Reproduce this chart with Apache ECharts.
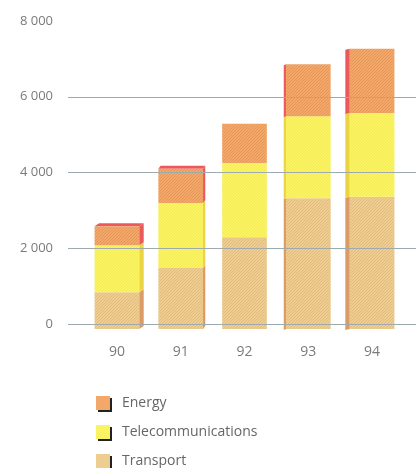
<!DOCTYPE html>
<html>
<head>
<meta charset="utf-8">
<script src="https://cdn.jsdelivr.net/npm/echarts@6/dist/echarts.min.js"></script>
<style>
  html, body { margin: 0; padding: 0; background: #ffffff; }
  #chart { width: 416px; height: 468px; }
</style>
</head>
<body>
<div id="chart"></div>
<script>
// Years on the category axis
const years = ['90', '91', '92', '93', '94'];
// Amounts per sector (stacked from bottom: Transport, Telecommunications, Energy)
const transport = [970, 1610, 2420, 3450, 3490];
const telecom = [1240, 1720, 1960, 2170, 2210];
const energy = [500, 900, 1040, 1370, 1700];
// Value axis ticks and gridlines
const yTicks = [0, 2000, 4000, 6000, 8000];
const gridValues = [0, 2000, 4000, 6000];

const seriesNames = ['Transport', 'Telecommunications', 'Energy'];
const seriesValues = [transport, telecom, energy];

// Face colours for each sector
const palette = {
  Transport: { base: '#eecd90', stripe: '#e3bb7c', side: '#dc9a66' },
  Telecommunications: { base: '#faf462', stripe: '#f3ea56', side: '#ead443' },
  Energy: { base: '#f1a868', stripe: '#e8955a', side: '#ea5a5c' }
};

// Fine diagonal hatching used as fill texture
function hatch(base, stripe, size) {
  const c = document.createElement('canvas');
  c.width = size; c.height = size;
  const ctx = c.getContext('2d');
  ctx.fillStyle = base;
  ctx.fillRect(0, 0, size, size);
  ctx.strokeStyle = stripe;
  ctx.lineWidth = 1;
  ctx.beginPath();
  ctx.moveTo(0, size); ctx.lineTo(size, 0);
  ctx.moveTo(-1, 1); ctx.lineTo(1, -1);
  ctx.moveTo(size - 1, size + 1); ctx.lineTo(size + 1, size - 1);
  ctx.stroke();
  return { image: c, repeat: 'repeat' };
}

function fmt(v) {
  return String(v).replace(/\B(?=(\d{3})+(?!\d))/g, ' ');
}

// Cumulative stacks, so each segment knows its base and top
const stacks = seriesValues.map(() => []);
years.forEach((y, i) => {
  let acc = 0;
  seriesValues.forEach((vals, s) => {
    stacks[s].push([i, acc, acc + vals[i]]);
    acc += vals[i];
  });
});

const FRONT_DROP = 5;   // front face sits a little below the back plane
const VANISH_X = 245;   // horizontal point the side faces lean towards

function makeRender(name, isTop) {
  const col = palette[name];
  const frontFill = hatch(col.base, col.stripe, 3);
  return function (params, api) {
    const i = api.value(0);
    const pBase = api.coord([i, api.value(1)]);
    const pTop = api.coord([i, api.value(2)]);
    const w = api.size([1, 0])[0] * 0.7;
    const x0 = pTop[0] - w / 2;
    const y0 = pTop[1] + FRONT_DROP;
    const h = pBase[1] - pTop[1];
    const dx = -(pTop[0] - VANISH_X) * 0.035;
    // the box is seen slightly from above only on the left-hand bars
    const dy = dx > 2 ? -3 : (dx < -2 ? 1 : 0);
    const children = [];
    if (Math.abs(dx) > 0.5) {
      const sx = dx > 0 ? x0 + w : x0;
      children.push({
        type: 'polygon',
        shape: { points: [[sx, y0], [sx + dx, y0 + dy], [sx + dx, y0 + h + dy], [sx, y0 + h]] },
        style: { fill: col.side }
      });
    }
    if (isTop && dy < 0) {
      children.push({
        type: 'polygon',
        shape: { points: [[x0, y0], [x0 + dx, y0 + dy], [x0 + w + dx, y0 + dy], [x0 + w, y0]] },
        style: { fill: col.side }
      });
    }
    children.push({
      type: 'rect',
      shape: { x: x0, y: y0, width: w, height: h },
      style: { fill: frontFill }
    });
    return { type: 'group', children: children };
  };
}

const chart = echarts.init(document.getElementById('chart'), null, { renderer: 'canvas' });

const series = seriesNames.map((name, s) => ({
  name: name,
  type: 'custom',
  xAxisIndex: 1,
  yAxisIndex: 1,
  renderItem: makeRender(name, s === seriesNames.length - 1),
  itemStyle: { color: palette[name].base },
  encode: { x: 0, y: 2 },
  data: stacks[s],
  clip: false,
  z: 3
}));

// Gridlines drawn across the full plot width
series.push({
  type: 'line',
  xAxisIndex: 0,
  yAxisIndex: 0,
  data: [],
  silent: true,
  markLine: {
    symbol: 'none',
    silent: true,
    label: { show: false },
    lineStyle: { color: '#9eabae', width: 1, type: 'solid' },
    data: gridValues.map(v => ({ yAxis: v }))
  }
});

chart.setOption({
  animation: false,
  backgroundColor: '#ffffff',
  textStyle: { fontFamily: 'Open Sans' },
  grid: [
    { left: 68, right: 0, top: 21, bottom: 144 },
    { left: 85, right: 12, top: 21, bottom: 144 }
  ],
  xAxis: [
    { gridIndex: 0, type: 'value', min: 0, max: 1, show: false },
    {
      gridIndex: 1, type: 'category', data: years,
      axisLine: { show: false }, axisTick: { show: false },
      axisLabel: { color: '#7a7a7a', fontSize: 14, margin: 21, fontFamily: 'Open Sans' }
    }
  ],
  yAxis: [
    {
      gridIndex: 0, type: 'value', min: yTicks[0], max: yTicks[yTicks.length - 1], interval: 2000,
      axisLine: { show: false }, axisTick: { show: false },
      splitLine: { show: false },
      axisLabel: { color: '#7a7a7a', fontSize: 13, margin: 15, formatter: fmt, fontFamily: 'Open Sans' }
    },
    { gridIndex: 1, type: 'value', min: yTicks[0], max: yTicks[yTicks.length - 1], show: false }
  ],
  legend: {
    type: 'plain',
    orient: 'vertical',
    left: 96,
    top: 396,
    padding: 0,
    itemWidth: 14,
    itemHeight: 14,
    itemGap: 15,
    icon: 'rect',
    data: ['Energy', 'Telecommunications', 'Transport'],
    itemStyle: { shadowColor: '#222222', shadowOffsetX: 2, shadowOffsetY: 2, shadowBlur: 0 },
    textStyle: { color: '#666666', fontSize: 14, lineHeight: 14, fontFamily: 'Open Sans', padding: [0, 0, 0, 7] },
    selectedMode: false
  },
  series: series
});
</script>
</body>
</html>
